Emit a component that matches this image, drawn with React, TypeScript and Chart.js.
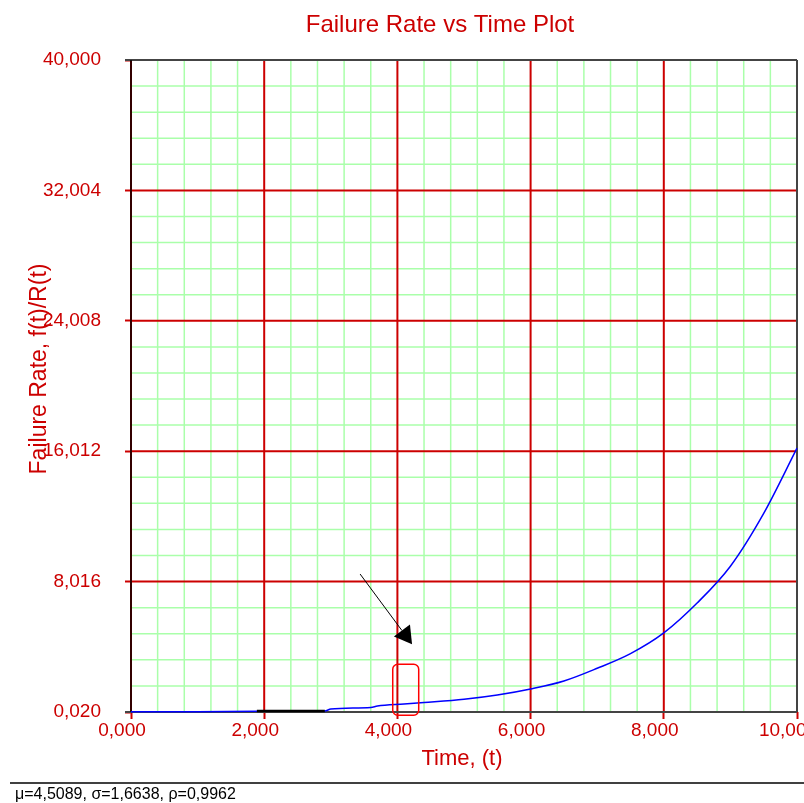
import React, { useEffect, useRef } from 'react';
import { Chart, registerables } from 'chart.js';

Chart.register(...registerables);

const TITLE = 'Failure Rate vs Time Plot';
const X_TITLE = 'Time, (t)';
const Y_TITLE = 'Failure Rate, f(t)/R(t)';
const FOOTER = 'μ=4,5089, σ=1,6638, ρ=0,9962';

const X_MIN = 0;
const X_MAX = 10;
const Y_MIN = 0.02;
const Y_MAX = 40;
const DIVISIONS = 25;
const MAJOR_EVERY = 5;

const timeValues = [0, 1, 1.89, 2.91, 3.0, 3.6, 3.7, 4.1, 4.4, 5.0, 5.5, 6.0, 6.5, 7.0, 7.5, 8.0, 8.5, 9.0, 9.5, 10.0];
const rateValues = [0.04, 0.04, 0.06, 0.08, 0.2, 0.3, 0.39, 0.51, 0.6, 0.8, 1.06, 1.43, 1.92, 2.7, 3.6, 4.87, 6.7, 8.96, 12.2, 16.2];

const markerTime = [1.89, 2.91];
const markerRate = [0.08, 0.08];

const boxTime = [3.93, 4.32];
const boxRate = [-0.18, 2.95];
const arrowFrom = [3.44, 8.48];
const arrowTo = [4.22, 4.18];

const RED = '#cc0000';
const GREEN = '#aaffaa';

const fmt = (v: number) => v.toFixed(3).replace('.', ',');

const makeTicks = (min: number, max: number) =>
  Array.from({ length: DIVISIONS + 1 }, (_, k) => ({ value: min + (k * (max - min)) / DIVISIONS }));

const decorPlugin = {
  id: 'decor',
  beforeDatasetsDraw(chart: any) {
    const { ctx, chartArea: a, scales } = chart;
    const xs = makeTicks(X_MIN, X_MAX).map((t) => scales.x.getPixelForValue(t.value));
    const ys = makeTicks(Y_MIN, Y_MAX).map((t) => scales.y.getPixelForValue(t.value));
    ctx.save();
    ctx.strokeStyle = GREEN;
    ctx.lineWidth = 1.5;
    xs.forEach((x: number, i: number) => {
      if (i % MAJOR_EVERY === 0) return;
      ctx.beginPath(); ctx.moveTo(x, a.top); ctx.lineTo(x, a.bottom); ctx.stroke();
    });
    ys.forEach((y: number, i: number) => {
      if (i % MAJOR_EVERY === 0) return;
      ctx.beginPath(); ctx.moveTo(a.left, y); ctx.lineTo(a.right, y); ctx.stroke();
    });
    ctx.strokeStyle = RED;
    ctx.lineWidth = 2;
    xs.forEach((x: number, i: number) => {
      if (i % MAJOR_EVERY !== 0) return;
      ctx.beginPath(); ctx.moveTo(x, a.top); ctx.lineTo(x, a.bottom); ctx.stroke();
    });
    ys.forEach((y: number, i: number) => {
      if (i % MAJOR_EVERY !== 0) return;
      ctx.beginPath(); ctx.moveTo(a.left, y); ctx.lineTo(a.right, y); ctx.stroke();
    });
    ctx.strokeStyle = '#444';
    ctx.lineWidth = 2;
    ctx.beginPath(); ctx.moveTo(a.left - 6, a.top); ctx.lineTo(a.right, a.top); ctx.stroke();
    ctx.beginPath(); ctx.moveTo(a.left - 6, a.bottom); ctx.lineTo(a.right, a.bottom); ctx.stroke();
    ctx.beginPath(); ctx.moveTo(a.right, a.top); ctx.lineTo(a.right, a.bottom); ctx.stroke();
    ctx.strokeStyle = '#000';
    ctx.lineWidth = 1.5;
    ctx.beginPath(); ctx.moveTo(a.left, a.top); ctx.lineTo(a.left, a.bottom); ctx.stroke();
    ctx.restore();
  },
  afterDatasetsDraw(chart: any) {
    const { ctx, scales } = chart;
    const sx = (v: number) => scales.x.getPixelForValue(v);
    const sy = (v: number) => scales.y.getPixelForValue(v);
    ctx.save();
    const x0 = sx(boxTime[0]), x1 = sx(boxTime[1]);
    const y0 = sy(boxRate[1]), y1 = sy(boxRate[0]);
    ctx.strokeStyle = '#ff0000';
    ctx.lineWidth = 1.5;
    ctx.beginPath();
    (ctx as any).roundRect(x0, y0, x1 - x0, y1 - y0, 5);
    ctx.stroke();
    const ax0 = sx(arrowFrom[0]), ay0 = sy(arrowFrom[1]);
    const ax1 = sx(arrowTo[0]), ay1 = sy(arrowTo[1]);
    const ang = Math.atan2(ay1 - ay0, ax1 - ax0);
    const hl = 17, hw = 10;
    const bx = ax1 - hl * Math.cos(ang), by = ay1 - hl * Math.sin(ang);
    ctx.strokeStyle = '#000';
    ctx.lineWidth = 1;
    ctx.beginPath(); ctx.moveTo(ax0, ay0); ctx.lineTo(bx, by); ctx.stroke();
    ctx.fillStyle = '#000';
    ctx.beginPath();
    ctx.moveTo(ax1, ay1);
    ctx.lineTo(bx + hw * Math.sin(ang), by - hw * Math.cos(ang));
    ctx.lineTo(bx - hw * Math.sin(ang), by + hw * Math.cos(ang));
    ctx.closePath();
    ctx.fill();
    ctx.restore();
  },
  afterDraw(chart: any) {
    const { ctx } = chart;
    ctx.save();
    ctx.fillStyle = RED;
    ctx.textAlign = 'center';
    ctx.textBaseline = 'middle';
    ctx.font = '24px "Liberation Sans", Arial, sans-serif';
    ctx.fillText(TITLE, 440, 25);
    ctx.font = '22px "Liberation Sans", Arial, sans-serif';
    ctx.fillText(X_TITLE, 462, 759);
    ctx.save();
    ctx.translate(40, 369);
    ctx.rotate(-Math.PI / 2);
    ctx.font = '23px "Liberation Sans", Arial, sans-serif';
    ctx.fillText(Y_TITLE, 0, 0);
    ctx.restore();
    ctx.strokeStyle = '#000';
    ctx.lineWidth = 1.5;
    ctx.beginPath(); ctx.moveTo(10, 783); ctx.lineTo(804, 783); ctx.stroke();
    ctx.fillStyle = '#000';
    ctx.textAlign = 'left';
    ctx.textBaseline = 'alphabetic';
    ctx.font = '16px "Liberation Sans", Arial, sans-serif';
    ctx.fillText(FOOTER, 15, 799);
    ctx.restore();
  },
};

export default function App() {
  const ref = useRef<HTMLCanvasElement | null>(null);
  useEffect(() => {
    if (!ref.current) return;
    const tickFont = { family: '"Liberation Sans", Arial, sans-serif', size: 19 };
    const chart = new Chart(ref.current, {
      type: 'line',
      data: {
        datasets: [
          {
            data: markerTime.map((t, i) => ({ x: t, y: markerRate[i] })),
            borderColor: '#000',
            borderWidth: 2.5,
            pointRadius: 0,
            tension: 0,
            clip: false,
          },
          {
            data: timeValues.map((t, i) => ({ x: t, y: rateValues[i] })),
            borderColor: '#0000ff',
            borderWidth: 1.5,
            pointRadius: 0,
            cubicInterpolationMode: 'monotone',
            clip: false,
          },
        ],
      },
      options: {
        responsive: false,
        animation: false,
        layout: { padding: { top: 60, right: 7, left: 0, bottom: 0 } },
        plugins: { legend: { display: false }, tooltip: { enabled: false }, title: { display: false } },
        scales: {
          x: {
            type: 'linear',
            min: X_MIN,
            max: X_MAX,
            afterBuildTicks: (s: any) => { s.ticks = makeTicks(X_MIN, X_MAX); },
            afterFit: (s: any) => { s.height = 91; s.paddingLeft = 0; s.paddingRight = 0; },
            grid: {
              drawOnChartArea: false,
              drawTicks: true,
              tickLength: 7,
              tickWidth: 2,
              tickColor: (c: any) => (c.index % MAJOR_EVERY === 0 ? RED : 'rgba(0,0,0,0)'),
            },
            border: { display: false },
            ticks: {
              autoSkip: false,
              maxRotation: 0,
              padding: 0,
              labelOffset: -9,
              color: RED,
              font: tickFont,
              callback: (v: any, i: number) => (i % MAJOR_EVERY === 0 ? fmt(Number(v)) : ''),
            },
          },
          y: {
            type: 'linear',
            min: Y_MIN,
            max: Y_MAX,
            afterBuildTicks: (s: any) => { s.ticks = makeTicks(Y_MIN, Y_MAX); },
            afterFit: (s: any) => { s.width = 131; s.paddingTop = 0; s.paddingBottom = 0; },
            grid: {
              drawOnChartArea: false,
              drawTicks: true,
              tickLength: 6,
              tickWidth: 2,
              tickColor: (c: any) => (c.index % MAJOR_EVERY === 0 ? RED : 'rgba(0,0,0,0)'),
            },
            border: { display: false },
            ticks: {
              autoSkip: false,
              padding: 24,
              color: RED,
              font: tickFont,
              callback: (v: any, i: number) => (i % MAJOR_EVERY === 0 ? fmt(Number(v)) : ''),
            },
          },
        },
      },
      plugins: [decorPlugin],
    });
    return () => chart.destroy();
  }, []);
  return (
    <div style={{ position: 'absolute', left: 0, top: 0, width: 804, height: 803, background: '#fff' }}>
      <canvas ref={ref} width={804} height={803} style={{ width: 804, height: 803 }} />
    </div>
  );
}
